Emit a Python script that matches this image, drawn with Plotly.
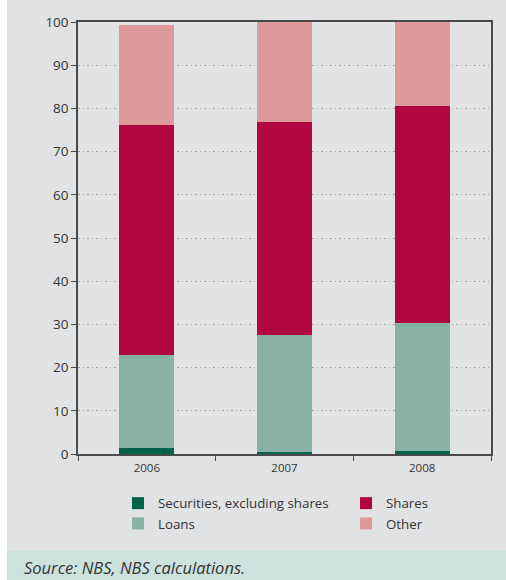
import plotly.graph_objects as go

# Structure of holdings by year (percentage shares)
years = ["2006", "2007", "2008"]
securities = [1.5, 0.5, 0.8]
loans = [21.4, 27.0, 29.5]
shares = [53.3, 49.4, 50.3]
other = [23.1, 23.1, 19.4]

series_names = ["Securities, excluding shares", "Loans", "Shares", "Other"]
series_colors = ["#00634a", "#88b2a5", "#b00641", "#dc9a9b"]
legend_groups = ["legend", "legend", "legend2", "legend2"]

W, H = 506, 580
ML, MR, MT, MB = 78, 15, 22, 126
pw, ph = W - ML - MR, H - MT - MB


def px_x(p):
    return (p - ML) / pw


def px_y(p):
    return (H - MB - p) / ph


fig = go.Figure()
for name, vals, col, lg in zip(series_names, [securities, loans, shares, other],
                               series_colors, legend_groups):
    fig.add_trace(go.Bar(
        x=years, y=vals, name=name, marker=dict(color=col, line=dict(width=0)),
        legend=lg, width=0.4,
    ))

BG = "#e1e2e4"
legend_style = dict(
    orientation="v", yanchor="top", xanchor="left", traceorder="normal",
    font=dict(size=13.3, color="#333333"), bgcolor="rgba(0,0,0,0)",
    itemclick=False, itemdoubleclick=False,
)
fig.update_layout(
    width=W, height=H,
    barmode="stack",
    paper_bgcolor=BG, plot_bgcolor=BG,
    margin=dict(l=ML, r=MR, t=MT, b=MB, pad=0),
    font=dict(family="Open Sans", color="#333333", size=13),
    showlegend=True,
    legend=dict(x=px_x(118), y=px_y(488), **legend_style),
    legend2=dict(x=px_x(346), y=px_y(488), **legend_style),
    xaxis=dict(
        showline=True, linecolor="#4a4a4a", linewidth=1.5, mirror=True,
        ticks="outside", tickson="boundaries", ticklen=5, tickcolor="#4a4a4a",
        tickfont=dict(size=11.5), ticklabelstandoff=2, showgrid=False,
    ),
    yaxis=dict(
        range=[0, 100], dtick=10, showline=True, linecolor="#4a4a4a", linewidth=1.5,
        mirror=True, ticks="outside", ticklen=5, tickcolor="#4a4a4a",
        tickfont=dict(size=13.5), showgrid=True, gridcolor="#a5a5a5", gridwidth=1,
        griddash="1.5px,3px", zeroline=False,
    ),
    shapes=[
        dict(type="rect", xref="paper", yref="paper", layer="below",
             x0=px_x(-5), x1=px_x(7), y0=px_y(600), y1=px_y(-5),
             fillcolor="white", line=dict(width=0)),
        dict(type="rect", xref="paper", yref="paper", layer="below",
             x0=px_x(7), x1=px_x(520), y0=px_y(600), y1=px_y(551),
             fillcolor="#cce3dd", line=dict(width=0)),
    ],
    annotations=[
        dict(text="<i>Source: NBS, NBS calculations.</i>", xref="paper", yref="paper",
             x=px_x(22), y=px_y(567), xanchor="left", yanchor="middle",
             showarrow=False, font=dict(size=16.5, color="#333333")),
    ],
)

fig.write_html("out.html")
